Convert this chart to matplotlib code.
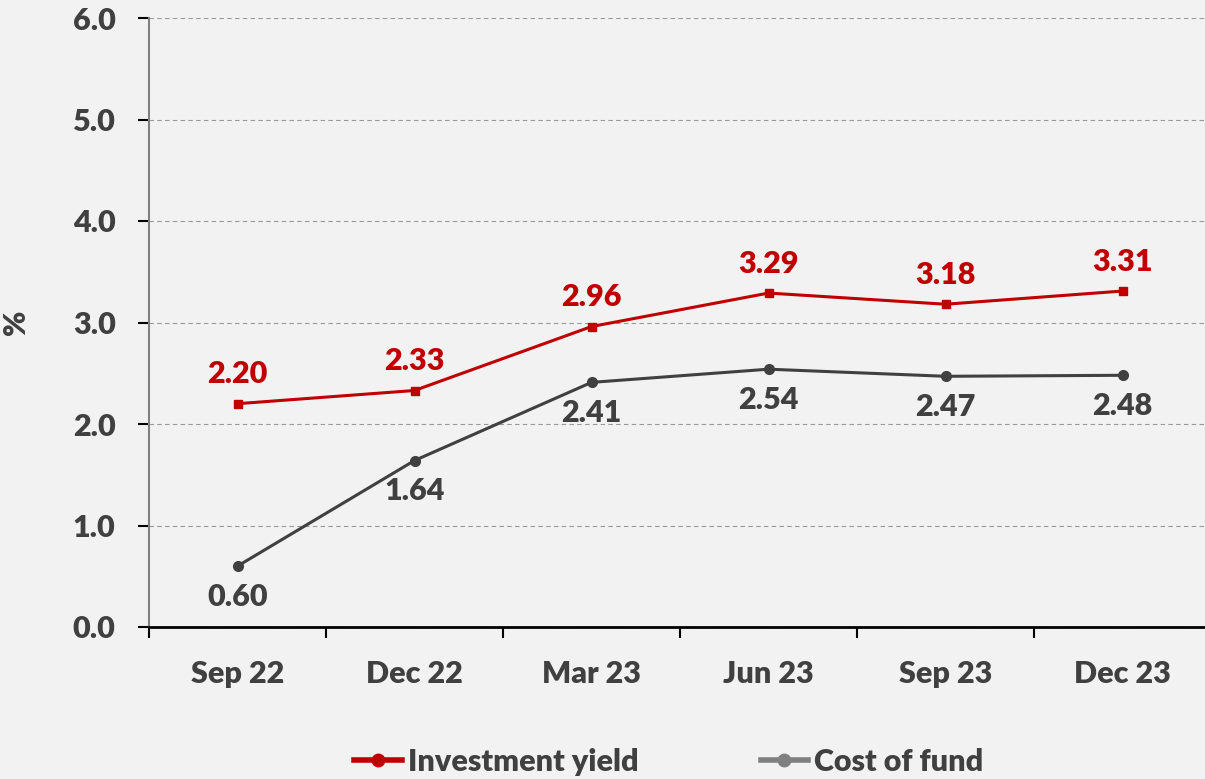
import matplotlib.pyplot as plt
from matplotlib.lines import Line2D

plt.rcParams['font.family'] = ['Lato', 'DejaVu Sans']
plt.rcParams['font.weight'] = 'heavy'

quarters = ['Sep 22', 'Dec 22', 'Mar 23', 'Jun 23', 'Sep 23', 'Dec 23']
inv_yield = [2.20, 2.33, 2.96, 3.29, 3.18, 3.31]
cost_fund = [0.60, 1.64, 2.41, 2.54, 2.47, 2.48]

red = '#C00000'
dark = '#404040'
bg = '#F2F2F2'
fs = 22

fig = plt.figure(figsize=(12.05, 7.79), dpi=100, facecolor=bg)
ax = fig.add_axes([149 / 1205, 1 - 627 / 779, 1062 / 1205, 609 / 779])
ax.set_facecolor(bg)

x = list(range(len(quarters)))
ax.plot(x, inv_yield, color=red, lw=2.2, marker='s', ms=6, zorder=3)
ax.plot(x, cost_fund, color=dark, lw=2.2, marker='o', ms=7, zorder=3)

for i, v in enumerate(inv_yield):
    ax.annotate(f'{v:.2f}', (i, v), xytext=(0, 11), textcoords='offset points',
                ha='center', va='bottom', color=red, fontsize=fs)
for i, v in enumerate(cost_fund):
    ax.annotate(f'{v:.2f}', (i, v), xytext=(0, -12), textcoords='offset points',
                ha='center', va='top', color=dark, fontsize=fs)

ax.set_xlim(-0.5, 5.5)
ax.set_ylim(0, 6)
ax.set_yticks([0, 1, 2, 3, 4, 5, 6])
ax.set_yticklabels([f'{t:.1f}' for t in range(7)])
ax.set_xticks(x)
ax.set_xticklabels(quarters)
ax.set_xticks([i - 0.5 for i in range(7)], minor=True)
ax.tick_params(axis='x', which='major', length=0, pad=24, labelsize=fs, labelcolor=dark)
ax.tick_params(axis='x', which='minor', length=8, width=1.5, direction='out', color='black')
ax.tick_params(axis='y', length=8, width=1.5, direction='out', color='black',
               labelsize=fs, labelcolor=dark, pad=16)

ax.grid(axis='y', color='#999999', ls=(0, (4, 3)), lw=0.8)
ax.set_axisbelow(True)
for s in ['top', 'right']:
    ax.spines[s].set_visible(False)
ax.spines['left'].set_color('#808080')
ax.spines['left'].set_linewidth(1.5)
ax.spines['bottom'].set_color('black')
ax.spines['bottom'].set_linewidth(2)

ax.set_ylabel('%', fontsize=fs, color=dark, fontweight='heavy')
ax.yaxis.set_label_coords(-119 / 1062, 0.5)

handles = [
    Line2D([], [], color=red, lw=4, marker='o', ms=9),
    Line2D([], [], color='#808080', lw=4, marker='o', ms=9),
]
fig.legend(handles, ['Investment yield', 'Cost of fund'], loc='center',
           bbox_to_anchor=(0.555, 1 - 762 / 779), ncol=2, frameon=False,
           fontsize=fs, handlelength=1.55, handletextpad=0.2, columnspacing=4.0,
           labelcolor=dark)

fig.savefig('out.png', dpi=100, facecolor=bg)
